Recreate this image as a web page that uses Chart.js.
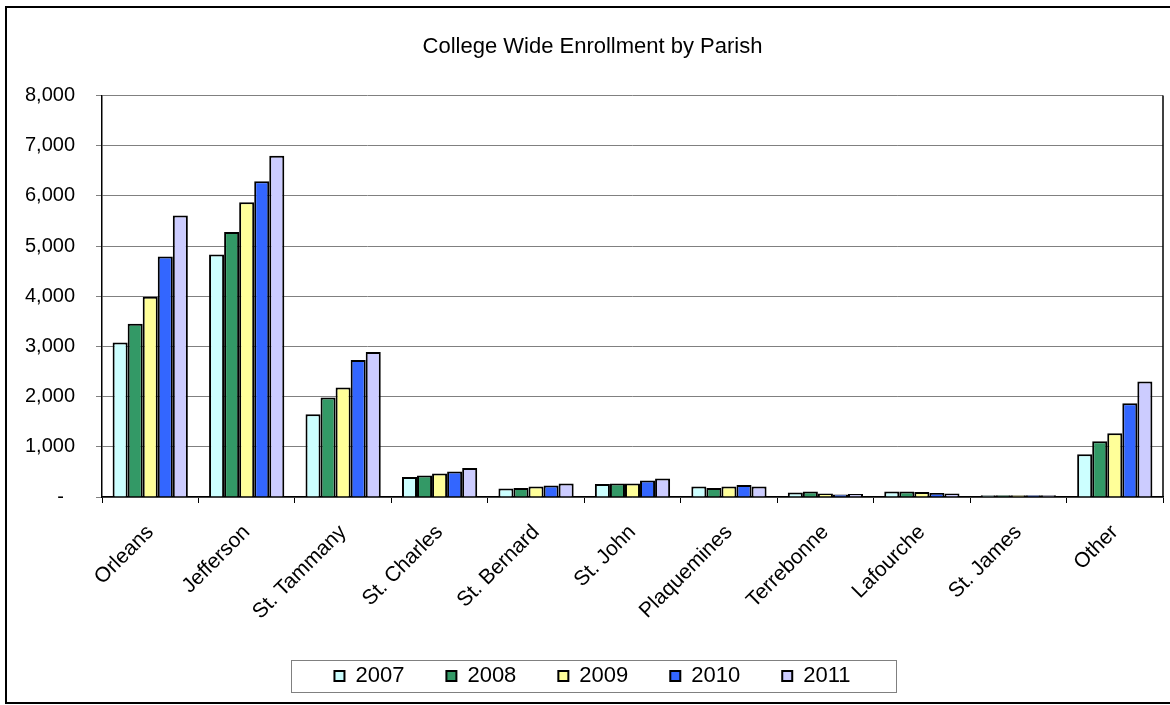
<!DOCTYPE html>
<html lang="en">
<head>
    <meta charset="UTF-8">
    <title>College Wide Enrollment by Parish</title>
    <script src="https://cdn.jsdelivr.net/npm/chart.js"></script>
    <style>
        html, body { margin: 0; padding: 0; background: #fff; }
        #wrap { width: 1170px; height: 705px; position: relative; }
    </style>
</head>
<body>
    <div id="wrap"><canvas id="myChart"></canvas></div>
    <script>
        const parishes = ['Orleans', 'Jefferson', 'St. Tammany', 'St. Charles', 'St. Bernard', 'St. John',
            'Plaquemines', 'Terrebonne', 'Lafourche', 'St. James', 'Other'];
        const years = ['2007', '2008', '2009', '2010', '2011'];
        const enroll2007 = [3080, 4830, 1650, 400, 170, 260, 210, 90, 110, 35, 850];
        const enroll2008 = [3450, 5280, 1980, 430, 180, 270, 180, 110, 110, 35, 1110];
        const enroll2009 = [3990, 5870, 2180, 470, 210, 270, 210, 70, 100, 35, 1270];
        const enroll2010 = [4790, 6290, 2730, 510, 230, 330, 240, 50, 80, 35, 1870];
        const enroll2011 = [5610, 6800, 2890, 580, 270, 370, 210, 60, 70, 35, 2300];
        const yTicks = [0, 1000, 2000, 3000, 4000, 5000, 6000, 7000, 8000];

        const series = [enroll2007, enroll2008, enroll2009, enroll2010, enroll2011];
        const fills = ['#CCFFFF', '#339966', '#FFFF99', '#3366FF', '#CCCCFF'];

        // outer frame + plot right edge + box round the legend
        const framePlugin = {
            id: 'frame',
            beforeDraw(chart) {
                const ctx = chart.ctx;
                ctx.save();
                ctx.fillStyle = '#fff';
                ctx.fillRect(0, 0, chart.width, chart.height);
                ctx.restore();
            },
            afterDraw(chart) {
                const ctx = chart.ctx;
                const a = chart.chartArea;
                ctx.save();
                ctx.strokeStyle = '#000';
                ctx.lineWidth = 2;
                ctx.strokeRect(6, 7, 1200, 696);
                ctx.lineWidth = 1.5;
                ctx.beginPath();
                ctx.moveTo(a.right, a.top);
                ctx.lineTo(a.right, a.bottom);
                ctx.stroke();
                const boxes = chart.legend.legendHitBoxes;
                if (boxes && boxes.length) {
                    const l = boxes[0].left, r = boxes[boxes.length - 1].left + boxes[boxes.length - 1].width;
                    const cy = boxes[0].top + boxes[0].height / 2;
                    ctx.strokeStyle = '#808080';
                    ctx.lineWidth = 1;
                    ctx.strokeRect(Math.round(l - 43) + 0.5, Math.round(cy - 16) + 0.5, Math.round(r - l + 89), 32);
                }
                ctx.restore();
            }
        };

        document.addEventListener('DOMContentLoaded', function() {
            const ctx = document.getElementById('myChart').getContext('2d');
            new Chart(ctx, {
                type: 'bar',
                data: {
                    labels: parishes,
                    datasets: years.map((y, i) => ({
                        label: y,
                        data: series[i],
                        backgroundColor: fills[i],
                        borderColor: '#000',
                        borderWidth: 2,
                        barPercentage: 1,
                        categoryPercentage: 0.78
                    }))
                },
                options: {
                    responsive: true,
                    maintainAspectRatio: false,
                    animation: false,
                    layout: { padding: { left: 22, right: 7, top: 0, bottom: 8 } },
                    plugins: {
                        title: {
                            display: true,
                            text: 'College Wide Enrollment by Parish',
                            color: '#000',
                            font: { family: 'Liberation Sans, Arial', size: 22, weight: 'normal' },
                            padding: { top: 34, bottom: 35 }
                        },
                        legend: {
                            position: 'bottom',
                            labels: {
                                color: '#000',
                                font: { family: 'Liberation Sans, Arial', size: 22 },
                                boxWidth: 10,
                                boxHeight: 10,
                                padding: 42
                            }
                        },
                        tooltip: { enabled: false }
                    },
                    scales: {
                        x: {
                            grid: {
                                offset: true,
                                drawOnChartArea: false,
                                tickLength: 6,
                                color: '#000'
                            },
                            border: { color: '#000', width: 1.5 },
                            ticks: {
                                color: '#000',
                                font: { family: 'Liberation Sans, Arial', size: 21 },
                                minRotation: 45,
                                maxRotation: 45,
                                padding: 17
                            },
                            afterFit(s) { s.height = 126; }
                        },
                        y: {
                            min: 0,
                            max: 8000,
                            afterBuildTicks(s) { s.ticks = yTicks.map(v => ({ value: v })); },
                            grid: { color: '#808080', tickLength: 6, lineWidth: 1 },
                            border: { color: '#000', width: 1.5 },
                            ticks: {
                                color: '#000',
                                font: { family: 'Liberation Sans, Arial', size: 20 },
                                padding: 21,
                                callback: v => v === 0 ? '-  ' : v.toLocaleString('en-US')
                            },
                            afterFit(s) { s.width = 80; }
                        }
                    }
                },
                plugins: [framePlugin]
            });
        });
    </script>
</body>
</html>
